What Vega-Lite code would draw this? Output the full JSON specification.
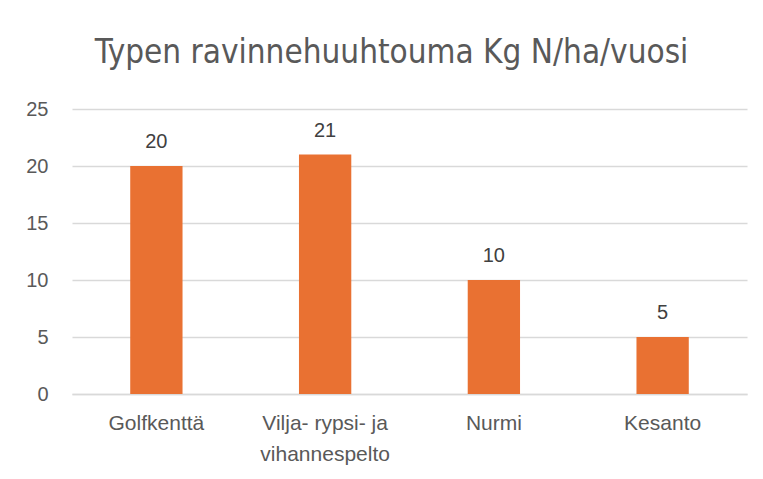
{
  "$schema": "https://vega.github.io/schema/vega-lite/v6.json",
  "autosize": {"type": "none"},
  "width": 675,
  "height": 285,
  "padding": {"left": 72, "top": 109, "right": 16, "bottom": 85},
  "background": "white",
  "title": {
    "text": "Typen ravinnehuuhtouma Kg N/ha/vuosi",
    "font": "Liberation Sans Narrow, DejaVu Sans Condensed, sans-serif",
    "fontSize": 33,
    "fontWeight": "normal",
    "color": "#595959",
    "anchor": "middle",
    "frame": "group",
    "baseline": "alphabetic",
    "offset": 3,
    "dx": -18
  },
  "data": {
    "values": [
      {"kategoria": "Golfkenttä", "arvo": 20},
      {"kategoria": "Vilja-  rypsi- ja vihannespelto", "arvo": 21},
      {"kategoria": "Nurmi", "arvo": 10},
      {"kategoria": "Kesanto", "arvo": 5}
    ]
  },
  "encoding": {
    "x": {
      "field": "kategoria",
      "type": "nominal",
      "sort": null,
      "scale": {"paddingInner": 0.69, "paddingOuter": 0.345},
      "axis": {
        "title": null,
        "labelAngle": 0,
        "labelFont": "Liberation Sans, sans-serif",
        "labelFontSize": 21,
        "labelColor": "#595959",
        "labelPadding": 18,
        "labelLineHeight": 31,
        "labelExpr": "datum.value == 'Vilja-  rypsi- ja vihannespelto' ? ['Vilja-  rypsi- ja', 'vihannespelto'] : datum.value",
        "ticks": false,
        "domain": true,
        "domainColor": "#D9D9D9",
        "domainWidth": 1.3,
        "grid": false
      }
    },
    "y": {
      "field": "arvo",
      "type": "quantitative",
      "scale": {"domain": [0, 25], "nice": false},
      "axis": {
        "title": null,
        "values": [0, 5, 10, 15, 20, 25],
        "labelFont": "Liberation Sans, sans-serif",
        "labelFontSize": 20,
        "labelColor": "#595959",
        "labelPadding": 24,
        "ticks": false,
        "domain": false,
        "grid": true,
        "gridColor": "#D9D9D9",
        "gridWidth": 1.3
      }
    }
  },
  "layer": [
    {"mark": {"type": "bar", "color": "#E97132"}},
    {
      "mark": {
        "type": "text",
        "baseline": "alphabetic",
        "dy": -18,
        "font": "Liberation Sans, sans-serif",
        "fontSize": 20,
        "color": "#404040"
      },
      "encoding": {"text": {"field": "arvo", "type": "quantitative"}}
    }
  ],
  "config": {"view": {"stroke": null}}
}
